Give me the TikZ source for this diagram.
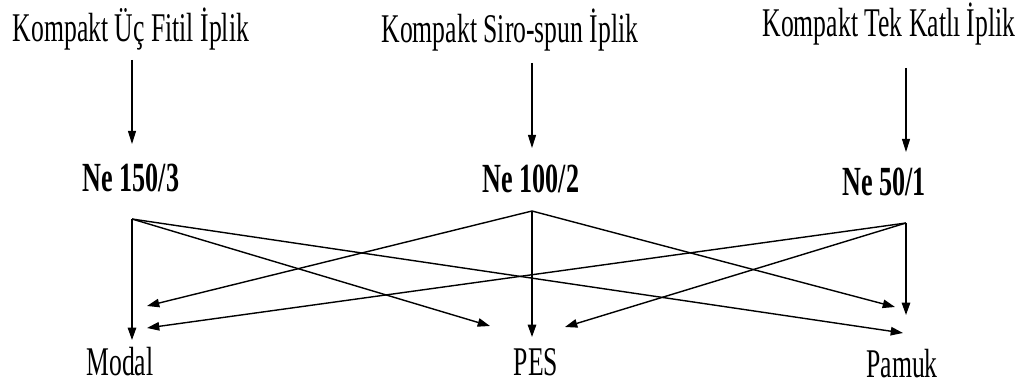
\documentclass[tikz,border=0pt]{standalone}
\usepackage{fontspec}
\setmainfont[FakeStretch=0.63]{Liberation Serif}
\usetikzlibrary{arrows.meta, calc}

\begin{document}
\begin{tikzpicture}[
        x=0.02cm, y=-0.02cm,
        yarn/.style={anchor=base, inner sep=0pt, font=\fontsize{23.2}{28}\selectfont},
        count/.style={anchor=base, inner sep=0pt, font=\fontsize{23.6}{28}\selectfont\bfseries},
        fibre/.style={anchor=base, inner sep=0pt, font=\fontsize{23.2}{28}\selectfont},
        arrow/.style={-{Triangle[length=7.5pt, width=4.6pt]}, line width=0.6pt},
        link/.style={-{Triangle[length=7pt, width=4.8pt]}, line width=0.8pt}
    ]
    \useasboundingbox (0,0) rectangle (1030,388);
%
    % Nodes
    \node[yarn] (ucfitil) at (131,42) {Kompakt Üç Fitil İplik};
    \node[yarn] (siro) at (510,43) {Kompakt Siro-spun İplik};
    \node[yarn] (tekkat) at (889,37) {Kompakt Tek Katlı İplik};
    \node[count] (ne150) at (131,192) {Ne 150/3};
    \node[count] (ne100) at (531,193) {Ne 100/2};
    \node[count] (ne50) at (884,195) {Ne 50/1};
    \node[fibre] (modal) at (120,375) {Modal};
    \node[fibre] (pes) at (536,375) {PES};
    \node[fibre] (pamuk) at (902,377) {Pamuk};
%
    % Branch points and arrow ends
    \coordinate (b150) at (132,219);
    \coordinate (b100) at (532,211);
    \coordinate (b50) at (906,223);
    \coordinate (m150) at (132,340);
    \coordinate (m100) at (147,306);
    \coordinate (m50) at (147,328);
    \coordinate (p150) at (490,326);
    \coordinate (p100) at (532,337);
    \coordinate (p50) at (565,327);
    \coordinate (k150) at (903,333);
    \coordinate (k100) at (895,307);
    \coordinate (k50) at (906,315);
%
    % Arrows
    \draw[arrow] ($(ucfitil.base -| b150)+(0,18)$) -- ($(ne150.base -| b150)+(0,-48)$);
    \draw[arrow] ($(siro.base -| b100)+(0,20)$) -- ($(ne100.base -| b100)+(0,-45)$);
    \draw[arrow] ($(tekkat.base -| b50)+(0,31)$) -- ($(ne50.base -| b50)+(0,-43)$);
    \foreach \from in {150,100,50}
        \foreach \to in {m,p,k}
            \draw[link] (b\from) -- (\to\from);
%
\end{tikzpicture}
\end{document}
